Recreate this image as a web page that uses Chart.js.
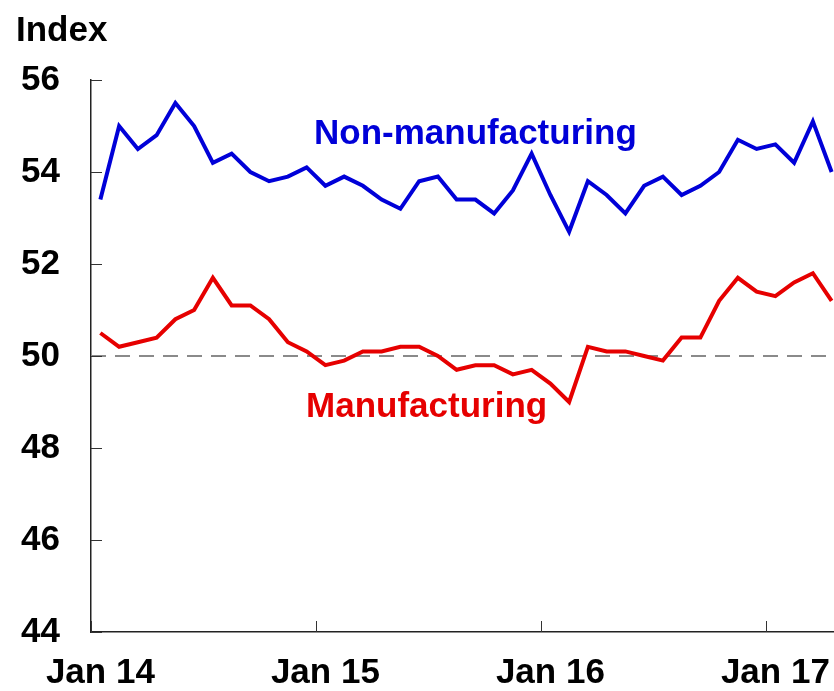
<!DOCTYPE html>
<html>
<head>
<meta charset="utf-8">
<script src="https://cdn.jsdelivr.net/npm/chart.js@4.4.1/dist/chart.umd.min.js"></script>
<style>
  html, body { margin: 0; padding: 0; background: #fff; overflow: hidden; }
  #wrap { width: 834px; height: 691px; overflow: hidden; }
</style>
</head>
<body>
<div id="wrap"><canvas id="pmiChart" width="850" height="691"></canvas></div>
<script>
// monthly PMI, Jan 2014 - Apr 2017
const months = [
  'Jan 14', 'Feb 14', 'Mar 14', 'Apr 14', 'May 14', 'Jun 14', 'Jul 14', 'Aug 14', 'Sep 14', 'Oct 14', 'Nov 14', 'Dec 14',
  'Jan 15', 'Feb 15', 'Mar 15', 'Apr 15', 'May 15', 'Jun 15', 'Jul 15', 'Aug 15', 'Sep 15', 'Oct 15', 'Nov 15', 'Dec 15',
  'Jan 16', 'Feb 16', 'Mar 16', 'Apr 16', 'May 16', 'Jun 16', 'Jul 16', 'Aug 16', 'Sep 16', 'Oct 16', 'Nov 16', 'Dec 16',
  'Jan 17', 'Feb 17', 'Mar 17', 'Apr 17'
];
const tickLabels = ['Jan 14', 'Jan 15', 'Jan 16', 'Jan 17'];

const nonManufacturing = [
  53.4, 55.0, 54.5, 54.8, 55.5, 55.0, 54.2, 54.4, 54.0, 53.8, 53.9, 54.1,
  53.7, 53.9, 53.7, 53.4, 53.2, 53.8, 53.9, 53.4, 53.4, 53.1, 53.6, 54.4,
  53.5, 52.7, 53.8, 53.5, 53.1, 53.7, 53.9, 53.5, 53.7, 54.0, 54.7, 54.5,
  54.6, 54.2, 55.1, 54.0
];
const manufacturing = [
  50.5, 50.2, 50.3, 50.4, 50.8, 51.0, 51.7, 51.1, 51.1, 50.8, 50.3, 50.1,
  49.8, 49.9, 50.1, 50.1, 50.2, 50.2, 50.0, 49.7, 49.8, 49.8, 49.6, 49.7,
  49.4, 49.0, 50.2, 50.1, 50.1, 50.0, 49.9, 50.4, 50.4, 51.2, 51.7, 51.4,
  51.3, 51.6, 51.8, 51.2
];
const yMin = 44, yMax = 56, yStep = 2;
const threshold = 50;

const BLUE = '#0000d8';
const RED = '#e60000';
const FONT = "'Liberation Sans', Arial, sans-serif";

// series names placed in data space (category position, value at baseline)
const seriesNames = [
  { text: 'Non-manufacturing', at: 20, value: 54.6, color: BLUE },
  { text: 'Manufacturing', at: 17.4, value: 48.67, color: RED }
];

const extras = {
  id: 'extras',
  beforeDatasetsDraw(chart) {
    const { ctx, chartArea, scales: { y } } = chart;
    const py = y.getPixelForValue(threshold);
    ctx.save();
    ctx.strokeStyle = '#8a8a8a';
    ctx.lineWidth = 2;
    ctx.setLineDash([15, 9]);
    ctx.beginPath();
    ctx.moveTo(chartArea.left, py);
    ctx.lineTo(chartArea.right, py);
    ctx.stroke();
    ctx.restore();
  },
  afterDatasetsDraw(chart) {
    const { ctx, chartArea, scales: { x, y } } = chart;
    ctx.save();
    ctx.strokeStyle = '#333';
    ctx.lineWidth = 1;
    // inward ticks
    y.ticks.forEach(t => {
      const py = Math.round(y.getPixelForValue(t.value)) + 0.5;
      ctx.beginPath();
      ctx.moveTo(chartArea.left, py);
      ctx.lineTo(chartArea.left + 11, py);
      ctx.stroke();
    });
    const half = (x.getPixelForValue(1) - x.getPixelForValue(0)) / 2;
    tickLabels.forEach(l => {
      const px = Math.round(x.getPixelForValue(months.indexOf(l)) - half) + 0.5;
      ctx.beginPath();
      ctx.moveTo(px, chartArea.bottom);
      ctx.lineTo(px, chartArea.bottom - 11);
      ctx.stroke();
    });

    ctx.font = 'bold 35px ' + FONT;
    ctx.textBaseline = 'alphabetic';
    ctx.textAlign = 'center';
    seriesNames.forEach(s => {
      ctx.fillStyle = s.color;
      ctx.fillText(s.text, x.getPixelForValue(s.at), y.getPixelForValue(s.value));
    });

    ctx.fillStyle = '#000';
    ctx.textAlign = 'left';
    ctx.fillText('Index', 16, chartArea.top - 39);
    ctx.restore();
  }
};

new Chart(document.getElementById('pmiChart'), {
  type: 'line',
  data: {
    labels: months,
    datasets: [
      {
        label: 'Non-manufacturing',
        data: nonManufacturing,
        borderColor: BLUE,
        borderWidth: 4,
        pointRadius: 0,
        tension: 0,
        fill: false
      },
      {
        label: 'Manufacturing',
        data: manufacturing,
        borderColor: RED,
        borderWidth: 4,
        pointRadius: 0,
        tension: 0,
        fill: false
      }
    ]
  },
  options: {
    responsive: false,
    animation: false,
    events: [],
    layout: { padding: { top: 80, right: 9, left: 0, bottom: 0 } },
    plugins: {
      legend: { display: false },
      tooltip: { enabled: false }
    },
    scales: {
      x: {
        type: 'category',
        offset: true,
        grid: { display: false, drawTicks: false },
        border: { display: true, color: '#222', width: 1.5 },
        ticks: {
          autoSkip: false,
          maxRotation: 0,
          minRotation: 0,
          padding: 20,
          color: '#000',
          font: { family: FONT, size: 35, weight: 'bold' },
          callback: (v, i) => tickLabels.includes(months[i]) ? months[i] : ''
        },
        afterFit: s => {
          s.height = 59;
          s.paddingLeft = 0;
          s.paddingRight = 0;
        }
      },
      y: {
        min: yMin,
        max: yMax,
        grid: { display: false, drawTicks: false },
        border: { display: true, color: '#222', width: 1.5 },
        ticks: {
          stepSize: yStep,
          padding: 31,
          color: '#000',
          font: { family: FONT, size: 35, weight: 'bold' }
        },
        afterFit: s => {
          s.width = 91;
          s.paddingTop = 0;
          s.paddingBottom = 0;
        }
      }
    }
  },
  plugins: [extras]
});
</script>
</body>
</html>
